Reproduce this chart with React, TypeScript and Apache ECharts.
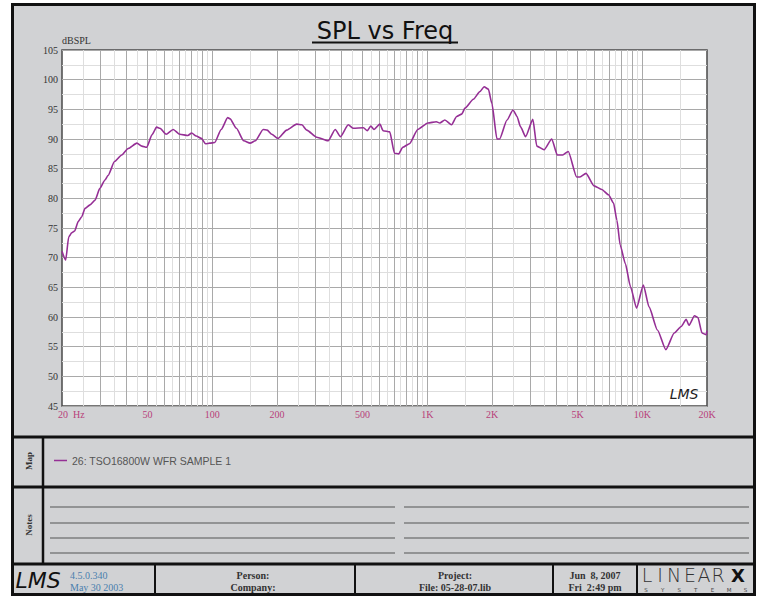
import React, { useEffect, useRef } from "react";
import * as echarts from "echarts";

// ---- data ----
const freqHz = [
  20, 20.8, 21.5, 22.2, 22.9, 23.8, 24.7, 25.6, 27, 28.5, 30, 31.7, 32.8, 35.1, 37.9, 40.6, 44.6, 47, 49.6,
  52.4, 55.1, 57.1, 61, 65.8, 70.6, 77, 80.2, 84.2, 89, 93, 97.4, 102.6, 110, 118, 121, 129.5, 140, 150,
  158.6, 172.5, 180, 189, 202, 222, 247, 261, 275, 306, 346, 373, 395, 429, 453, 505, 526, 546, 565, 602,
  623, 669, 704, 736, 769, 826, 903, 1007, 1102, 1143, 1207, 1297, 1370, 1446, 1498, 1638, 1759, 1838,
  1924, 1997, 2109, 2169, 2349, 2504, 2615, 2711, 2866, 3099, 3230, 3494, 3792, 4025, 4264, 4526, 4952,
  5130, 5474, 5964, 6481, 6964, 7351, 7621, 7896, 8340, 8814, 9403, 10116, 10750, 11760, 12870, 14080,
  15170, 16010, 16470, 17500, 18150, 18960, 19850, 20000,
];
const splDb = [
  71.1, 69.6, 73.5, 74.2, 74.5, 76.1, 76.9, 78.3, 78.9, 79.7, 81.7, 83.1, 83.9, 86.2, 87.3, 88.4, 89.3, 88.8, 88.6,
  90.7, 92.0, 91.8, 90.8, 91.6, 90.8, 90.6, 91.0, 90.5, 90.1, 89.2, 89.3, 89.4, 91.6, 93.6, 93.4, 91.8, 89.7, 89.3,
  89.7, 91.6, 91.5, 90.8, 90.1, 91.5, 92.5, 92.4, 91.5, 90.3, 89.7, 91.6, 90.4, 92.4, 91.8, 91.9, 91.4, 92.2, 91.6, 92.5,
  91.4, 91.2, 87.6, 87.5, 88.6, 89.2, 91.6, 92.7, 92.9, 92.7, 93.2, 92.4, 93.8, 94.2, 95.2, 96.7, 98.0, 98.8,
  98.4, 96.0, 90.0, 90.0, 93.2, 94.9, 93.8, 92.1, 90.4, 93.3, 88.8, 88.2, 90.0, 87.3, 87.3, 87.9, 83.6,
  83.6, 84.2, 82.1, 81.5, 80.6, 79.2, 76.3, 72.1, 69.0, 65.1, 61.5, 65.4, 61.7, 57.8, 54.5, 57.3,
  58.4, 59.6, 58.6, 60.2, 59.9, 57.3, 57.0, 57.7,
];
const seriesName = "26: TSO16800W WFR SAMPLE 1";

const xTickValues = [20, 50, 100, 200, 500, 1000, 2000, 5000, 10000, 20000];
const xTickLabels = ["20  Hz", "50", "100", "200", "500", "1K", "2K", "5K", "10K", "20K"];
const xGridMajor = [
  30, 40, 50, 60, 70, 80, 90, 100, 200, 300, 400, 500, 600, 700, 800, 900, 1000,
  2000, 3000, 4000, 5000, 6000, 7000, 8000, 9000, 10000,
];
const xGridMinor = [
  25, 35, 45, 55, 65, 75, 85, 95, 150, 250, 350, 450, 550, 650, 750, 850, 950,
  1500, 2500, 3500, 4500, 5500, 6500, 7500, 8500, 9500, 15000,
];
const yMin = 45;
const yMax = 105;
const yStep = 5;

const GRAY = "#d1d2d4";
const SERIF = "'Liberation Serif', 'DejaVu Serif', serif";
const SANS = "'Liberation Sans', Arial, sans-serif";

function buildGraphic() {
  const els: any[] = [];
  // background panel
  els.push({ type: "rect", z: -10, shape: { x: 12, y: 4, width: 743, height: 591 }, style: { fill: GRAY } });
  // frame
  els.push({ type: "rect", z: 50, shape: { x: 12.5, y: 4.5, width: 742, height: 590 }, style: { fill: "none", stroke: "#111", lineWidth: 3 } });
  [437, 487, 564].forEach((y) =>
    els.push({ type: "line", z: 50, shape: { x1: 12, y1: y, x2: 755, y2: y }, style: { stroke: "#111", lineWidth: 3 } })
  );
  els.push({ type: "line", z: 50, shape: { x1: 43, y1: 437, x2: 43, y2: 564 }, style: { stroke: "#111", lineWidth: 2.5 } });
  [155, 355, 553, 637].forEach((x) =>
    els.push({ type: "line", z: 50, shape: { x1: x, y1: 564, x2: x, y2: 595 }, style: { stroke: "#111", lineWidth: 2 } })
  );
  // notes lines
  [507, 523, 538, 553].forEach((y) => {
    els.push({ type: "line", shape: { x1: 50, y1: y, x2: 395, y2: y }, style: { stroke: "#555", lineWidth: 1.2 } });
    els.push({ type: "line", shape: { x1: 404, y1: y, x2: 749, y2: y }, style: { stroke: "#555", lineWidth: 1.2 } });
  });
  // title
  els.push({
    type: "text", x: 385, y: 31,
    style: { text: "SPL vs Freq", fill: "#111", font: "24px 'DejaVu Sans', sans-serif", align: "center", verticalAlign: "middle" },
  });
  els.push({ type: "line", shape: { x1: 312, y1: 42.5, x2: 458, y2: 42.5 }, style: { stroke: "#111", lineWidth: 2 } });
  // LMS watermark in plot
  els.push({
    type: "text", z: 60, x: 684, y: 394,
    style: { text: "LMS", fill: "#222", font: "italic 14px 'DejaVu Sans', sans-serif", align: "center", verticalAlign: "middle" },
  });
  // side labels
  els.push({
    type: "text", x: 29, y: 461, rotation: Math.PI / 2,
    style: { text: "Map", fill: "#333", font: `bold 9px ${SERIF}`, align: "center", verticalAlign: "middle" },
  });
  els.push({
    type: "text", x: 29, y: 525, rotation: Math.PI / 2,
    style: { text: "Notes", fill: "#333", font: `bold 9px ${SERIF}`, align: "center", verticalAlign: "middle" },
  });
  // footer
  els.push({
    type: "text", x: 38, y: 580,
    style: { text: "LMS", fill: "#111", font: "italic 22px 'DejaVu Sans', sans-serif", align: "center", verticalAlign: "middle" },
  });
  els.push({ type: "text", x: 70, y: 575, style: { text: "4.5.0.340", fill: "#4a7fae", font: `10px ${SERIF}`, align: "left", verticalAlign: "middle" } });
  els.push({ type: "text", x: 70, y: 587, style: { text: "May 30 2003", fill: "#4a7fae", font: `10px ${SERIF}`, align: "left", verticalAlign: "middle" } });
  const footerPairs: [number, string, string][] = [
    [253, "Person:", "Company:"],
    [455, "Project:", "File: 05-28-07.lib"],
    [595, "Jun  8, 2007", "Fri  2:49 pm"],
  ];
  footerPairs.forEach(([x, a, b]) => {
    els.push({ type: "text", x, y: 575, style: { text: a, fill: "#333", font: `bold 10px ${SERIF}`, align: "center", verticalAlign: "middle" } });
    els.push({ type: "text", x, y: 587, style: { text: b, fill: "#333", font: `bold 10px ${SERIF}`, align: "center", verticalAlign: "middle" } });
  });
  // LINEARX logo
  const logoLetters = ["L", "I", "N", "E", "A", "R"];
  const logoX = [647, 660, 674, 690, 704, 718];
  logoLetters.forEach((ch, i) =>
    els.push({ type: "text", x: logoX[i], y: 575, style: { text: ch, fill: "#333", font: "200 19px 'DejaVu Sans', sans-serif", align: "center", verticalAlign: "middle" } })
  );
  els.push({ type: "text", x: 738, y: 575, style: { text: "X", fill: "#111", font: "bold 18px 'DejaVu Sans', sans-serif", align: "center", verticalAlign: "middle" } });
  "SYSTEMS".split("").forEach((ch, i) =>
    els.push({ type: "text", x: 646 + i * 16.6, y: 590, style: { text: ch, fill: "#444", font: "5.5px 'DejaVu Sans', sans-serif", align: "center", verticalAlign: "middle" } })
  );
  return els;
}

export default function App() {
  const ref = useRef<HTMLDivElement>(null);
  useEffect(() => {
    if (!ref.current) return;
    const chart = echarts.init(ref.current, null, { renderer: "svg" });
    const option: any = {
      animation: false,
      backgroundColor: "#ffffff",
      grid: {
        left: 62, top: 50, width: 645, height: 356, show: true,
        backgroundColor: "#ffffff", borderColor: "#4a4a4a", borderWidth: 1.5,
      },
      legend: {
        show: true, data: [seriesName], left: 49, top: 450, icon: "rect",
        itemWidth: 13, itemHeight: 1.5,
        textStyle: { fontFamily: SANS, fontSize: 10.5, color: "#555" },
      },
      xAxis: {
        type: "log", logBase: 10, min: 20, max: 20000,
        axisLine: { show: false }, axisTick: { show: false }, axisLabel: { show: false },
        splitLine: { show: false },
      },
      yAxis: {
        type: "value", min: yMin, max: yMax, interval: yStep,
        name: "dBSPL", nameLocation: "end", nameGap: 1,
        nameTextStyle: { align: "left", fontFamily: SERIF, fontSize: 10, color: "#333" },
        axisLine: { show: false }, axisTick: { show: false },
        axisLabel: { fontFamily: SERIF, fontSize: 10, color: "#333", margin: 4 },
        splitLine: { lineStyle: { color: "#a9a9a9", width: 1 } },
        minorTick: { show: false, splitNumber: 2 },
        minorSplitLine: { show: true, lineStyle: { color: "#dedede", width: 1 } },
      },
      graphic: { elements: buildGraphic() },
      series: [
        {
          name: "gridlines", type: "line", data: [], silent: true, z: 1,
          markLine: {
            silent: true, symbol: ["none", "none"], animation: false,
            label: { show: false },
            data: [
              ...xGridMinor.map((v) => ({ xAxis: v, lineStyle: { color: "#dedede", width: 1, type: "solid" } })),
              ...xGridMajor.map((v) => ({ xAxis: v, lineStyle: { color: "#a9a9a9", width: 1, type: "solid" } })),
            ],
          },
        },
        {
          name: "xlabels", type: "line", data: [], silent: true, z: 1,
          markLine: {
            silent: true, symbol: ["none", "none"], animation: false,
            lineStyle: { color: "transparent", width: 0 },
            label: {
              show: true, position: "start", distance: 3,
              formatter: (p: any) => p.name,
              color: "#b8407a", fontFamily: SERIF, fontSize: 10,
            },
            data: xTickValues.map((v, i) => ({
              xAxis: v, name: xTickLabels[i],
              ...(i === 0 ? { label: { align: "left", offset: [-4, 0] } } : {}),
            })),
          },
        },
        {
          name: seriesName, type: "line", z: 5,
          data: freqHz.map((f, i) => [f, splDb[i]]),
          showSymbol: false, symbol: "none",
          smooth: 0.2, smoothMonotone: "x",
          lineStyle: { color: "#952f95", width: 1.6 },
          itemStyle: { color: "#952f95" },
        },
      ],
    };
    chart.setOption(option);
    return () => chart.dispose();
  }, []);
  return (
    <div
      ref={ref}
      style={{ position: "fixed", left: 0, top: 0, width: 757, height: 596 }}
    />
  );
}
